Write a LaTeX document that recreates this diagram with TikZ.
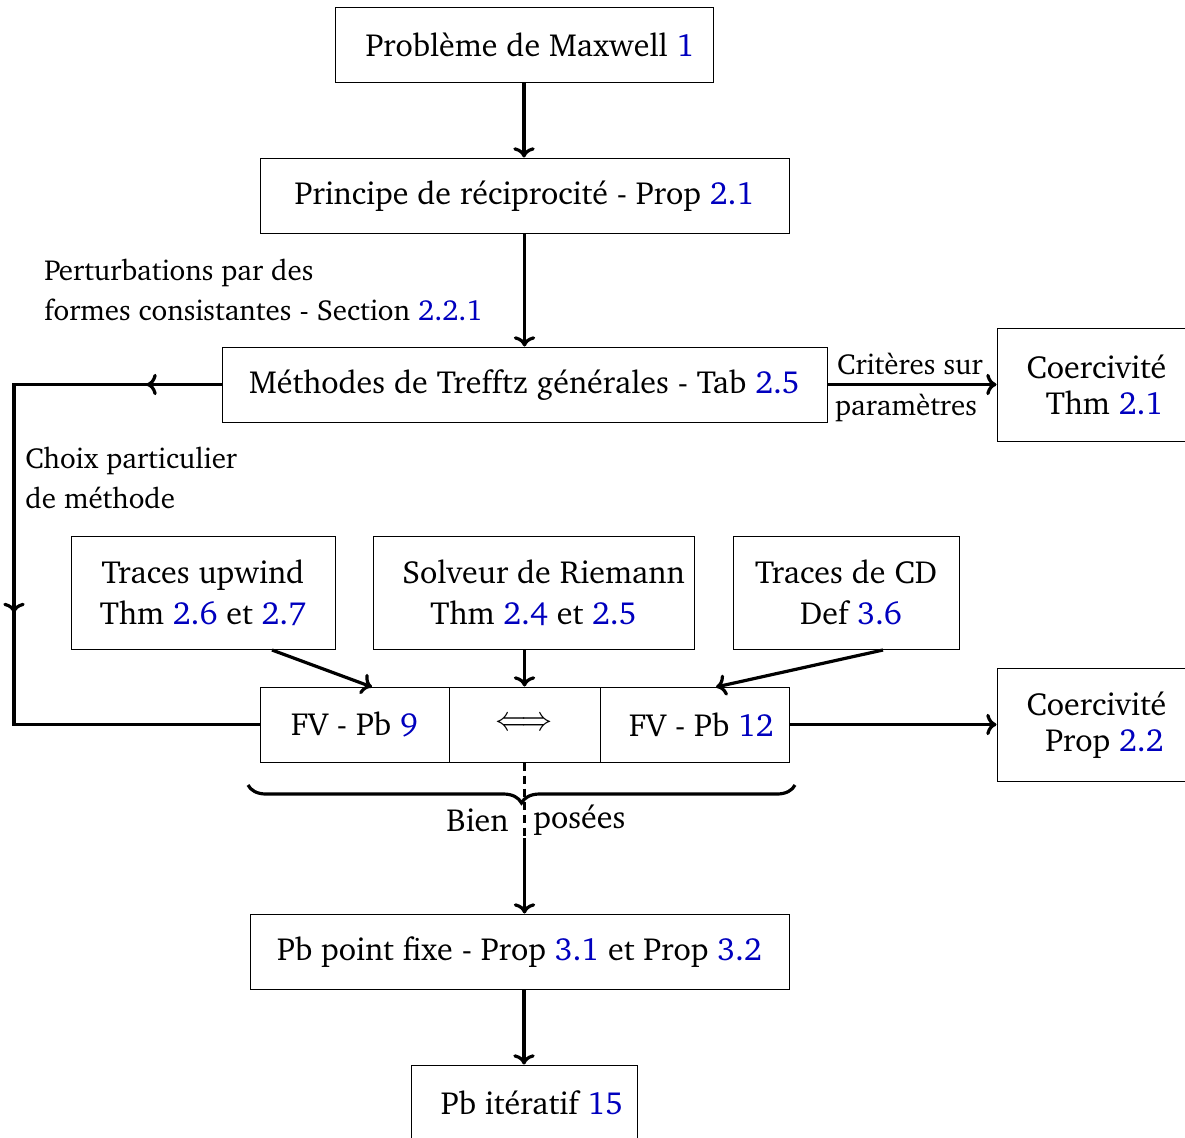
\documentclass[tikz,border=0pt]{standalone}
\usepackage[T1]{fontenc}
\usepackage{charter}
\usetikzlibrary{decorations.pathreplacing,decorations.markings,arrows.meta}
\definecolor{linkblue}{RGB}{0,0,190}
\newcommand{\lk}[1]{\textcolor{linkblue}{#1}}
\tikzset{
  box/.style={draw, line width=0.5pt, inner sep=0pt, align=center, font=\fontsize{16}{20.5}\selectfont},
  conn/.style={line width=1.6pt, ->},
  plain/.style={line width=1.6pt},
  lbl/.style={inner sep=0pt, align=left, font=\fontsize{14.5}{20}\selectfont},
}
\begin{document}
\begin{tikzpicture}[x=0.5pt,y=-0.5pt]
\useasboundingbox (0,0) rectangle (1185,1137);
\clip (0,0) rectangle (1185,1137);
% boxes
\node[box, minimum width=189pt, minimum height=37.5pt] (maxwell) at (524,44.5) {\hspace*{6pt}Problème de Maxwell \lk{1}};
\node[box, minimum width=264.5pt, minimum height=37.5pt] (recip) at (524.5,195.5) {Principe de réciprocité - Prop \lk{2.1}};
\node[box, minimum width=302.5pt, minimum height=37.5pt] (trefftz) at (524.5,384.5) {Méthodes de Trefftz générales - Tab \lk{2.5}};
\node[box, minimum width=107.5pt, minimum height=56.5pt, font=\fontsize{16}{18}\selectfont] (coer1) at (1104.5,384.5) {Coercivité\hspace*{8pt}\\ Thm \lk{2.1}};
\node[box, minimum width=132pt, minimum height=56.5pt] (upwind) at (203,592.5) {Traces upwind\\ Thm \lk{2.6} et \lk{2.7}};
\node[box, minimum width=160.5pt, minimum height=56.5pt] (riemann) at (533.5,592.5) {\hspace*{10pt}Solveur de Riemann\\ Thm \lk{2.4} et \lk{2.5}};
\node[box, minimum width=113pt, minimum height=56.5pt] (cd) at (846,592.5) {Traces de CD\\ \hspace*{5pt}Def \lk{3.6}};
\node[box, minimum width=94.5pt, minimum height=37.5pt] (fvl) at (354.5,724.5) {FV - Pb \lk{9}};
\node[box, minimum width=75.5pt, minimum height=37.5pt] (equiv) at (524.5,724.5) {\scalebox{0.9}[1]{$\Longleftrightarrow$}};
\node[box, minimum width=94.5pt, minimum height=37.5pt] (fvr) at (694.5,724.5) {\hspace*{7pt}FV - Pb \lk{12}};
\node[box, minimum width=107.5pt, minimum height=56.5pt, font=\fontsize{16}{18}\selectfont] (coer2) at (1104.5,724.5) {Coercivité\hspace*{8pt}\\ Prop \lk{2.2}};
\node[box, minimum width=269.5pt, minimum height=37.5pt] (fixe) at (519.5,951.5) {Pb point fixe - Prop \lk{3.1} et Prop \lk{3.2}};
\node[box, minimum width=113pt, minimum height=37.5pt] (iter) at (524,1102.5) {\hspace*{8pt}Pb itératif \lk{15}};
% labels
\node[lbl, anchor=west] (pert) at (44,290) {Perturbations par des\\ formes consistantes - Section \lk{2.2.1}};
\node[lbl, anchor=west] (choix) at (25,478) {Choix particulier\\ de méthode};
% connectors
\draw[conn] (maxwell.south) -- (maxwell.south |- recip.north);
\draw[conn] (recip.south) -- (trefftz.north);
\draw[conn] (trefftz.east) -- node[lbl, above=4pt, xshift=-1pt] {Critères sur} node[lbl, below=4pt, xshift=-3pt] {paramètres} (coer1.west);
\coordinate (c1) at (14,384.5);
\coordinate (c2) at (14,724.5);
\draw[plain, postaction={decorate}, decoration={markings,
   mark=at position 37.5pt with {\arrow{>}},
   mark=at position 218pt with {\arrow{>}}}]
   (trefftz.west) -- (c1) -- (c2) -- (fvl.west);
\coordinate (u1) at (272,650);
\coordinate (u2) at (372,687);
\draw[conn] (u1) -- (u2);
\draw[conn] (equiv.north |- riemann.south) -- (equiv.north);
\coordinate (d1) at (883,650);
\coordinate (d2) at (716,687);
\draw[conn] (d1) -- (d2);
\draw[conn] (fvr.east) -- (coer2.west);
% brace
\coordinate (b1) at (795,785);
\coordinate (b2) at (248,785);
\draw[plain, decorate, decoration={brace, amplitude=9pt}] (b1) -- (b2);
\coordinate (dd) at (524.5,838);
\draw[plain, dash pattern=on 4pt off 2.5pt] (equiv.south) -- (dd);
\draw[conn] (dd) -- (dd |- fixe.north);
\node[lbl, anchor=east, font=\fontsize{16}{20}\selectfont] (bien) at (509,820) {Bien};
\node[lbl, anchor=west, font=\fontsize{16}{20}\selectfont] (posees) at (533,820) {posées};
\draw[conn] (iter.north |- fixe.south) -- (iter.north);
\end{tikzpicture}
\end{document}
